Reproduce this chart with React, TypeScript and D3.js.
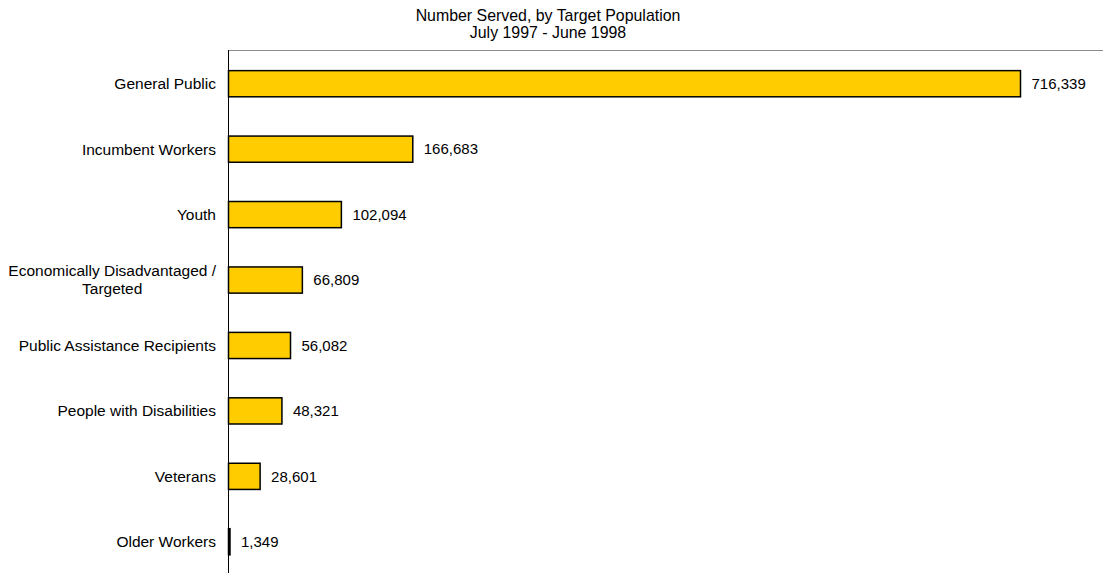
import React from "react";
import * as d3 from "d3";

const categories = [
  "General Public",
  "Incumbent Workers",
  "Youth",
  "Economically Disadvantaged /\nTargeted",
  "Public Assistance Recipients",
  "People with Disabilities",
  "Veterans",
  "Older Workers",
];
const values = [716339, 166683, 102094, 66809, 56082, 48321, 28601, 1349];
const titleLines = ["Number Served, by Target Population", "July 1997 - June 1998"];

const W = 1103;
const H = 573;
const FONT = "'Liberation Sans', Arial, sans-serif";
const LABEL_SIZE = 15.5;

let ctx: CanvasRenderingContext2D | null = null;
function measure(t: string, size: number): number {
  if (!ctx) ctx = document.createElement("canvas").getContext("2d");
  if (!ctx) return t.length * size * 0.5;
  ctx.font = `${size}px 'Liberation Sans', Arial, sans-serif`;
  return ctx.measureText(t).width;
}

export default function App() {
  const x = d3.scaleLinear().domain([0, 800000]).range([228.5, 1113]);
  const y = d3
    .scaleBand<string>()
    .domain(categories)
    .range([51, 574.5])
    .paddingInner(0.6)
    .paddingOuter(0.3);
  const fmt = d3.format(",");
  const labelRight = 216;
  return (
    <svg
      width={W}
      height={H}
      style={{ position: "absolute", left: 0, top: 0, background: "#fff" }}
      fontFamily={FONT}
    >
      {titleLines.map((t, i) => (
        <text key={i} x={548} y={20.5 + i * 17} textAnchor="middle" fontSize={15.9} fill="#000">
          {t}
        </text>
      ))}
      <line x1={228.5} x2={W} y1={50.5} y2={50.5} stroke="#8c8c8c" strokeWidth={1} />
      {categories.map((c, i) => {
        const y0 = y(c)!;
        const bh = y.bandwidth();
        const cy = y0 + bh / 2;
        const lines = c.split("\n");
        const maxW = Math.max(...lines.map((l) => measure(l, LABEL_SIZE)));
        const multi = lines.length > 1;
        return (
          <g key={c}>
            <rect
              x={x(0)}
              y={y0}
              width={x(values[i]) - x(0)}
              height={bh}
              fill="#FFCC00"
              stroke="#000"
              strokeWidth={1.5}
            />
            <text
              x={x(values[i]) + 11}
              y={cy}
              dy="0.35em"
              fontSize={15}
              fill="#000"
            >
              {fmt(values[i])}
            </text>
            {lines.map((l, j) => (
              <text
                key={j}
                x={multi ? labelRight - maxW / 2 : labelRight}
                y={cy + (j - (lines.length - 1) / 2) * 18}
                dy="0.35em"
                textAnchor={multi ? "middle" : "end"}
                fontSize={LABEL_SIZE}
                fill="#000"
              >
                {l}
              </text>
            ))}
          </g>
        );
      })}
      <line x1={228.5} x2={228.5} y1={50} y2={H} stroke="#000" strokeWidth={1} />
    </svg>
  );
}
